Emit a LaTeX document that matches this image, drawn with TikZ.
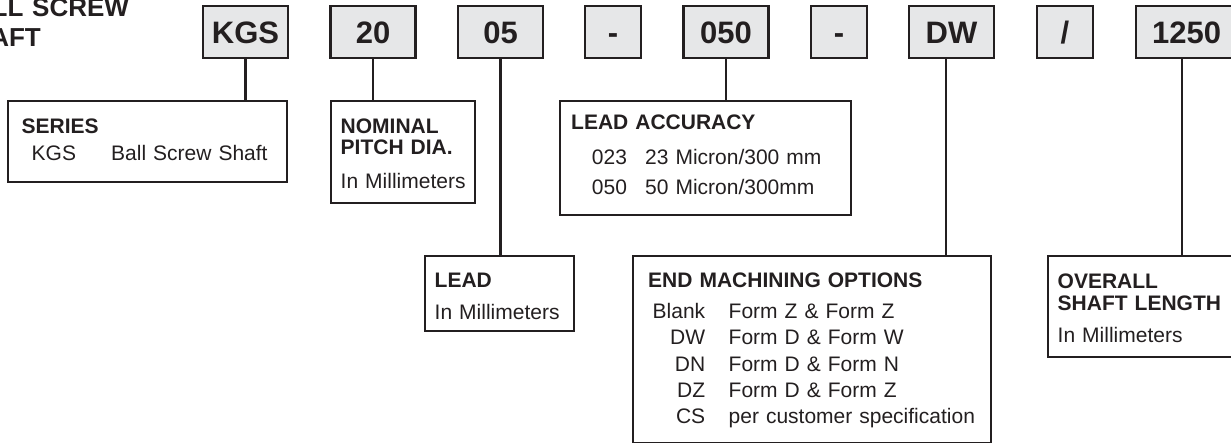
\documentclass[tikz,border=0pt]{standalone}
\usepackage{fontspec}
\setmainfont{Liberation Sans}
\definecolor{ink}{HTML}{231F20}
\definecolor{boxgray}{HTML}{E6E7E8}
\begin{document}
\begin{tikzpicture}[x=1pt,y=-1pt,
		topbox/.style={draw=ink, fill=boxgray, line width=2.2pt, minimum width=85pt, minimum height=52pt, inner sep=0pt, text height=22.5pt, text depth=0pt, text=ink, font=\fontsize{31}{31}\selectfont\bfseries},
		keybox/.style={draw=ink, line width=2.2pt, inner sep=0pt, anchor=north west},
		keytext/.style={anchor=base west, inner sep=0pt, text width=#1, align=left, text=ink, font=\fontsize{21}{22}\selectfont},
		keytext/.default=260pt,
		wire/.style={draw=ink, line width=2.2pt}]
				\useasboundingbox (0,0) rectangle (1231,443);
				% title, cut off at the left edge
				\node[anchor=base west, inner sep=0pt, text width=250pt, align=left, text=ink, font=\fontsize{26}{30.4}\selectfont\bfseries] (title) at (-46,16.3) {BALL SCREW\\SHAFT};
				% code boxes
				\node[topbox] (kgs) at (245.5,32) {KGS};
				\node[topbox] (dia) at (373,32) {20};
				\node[topbox] (lead) at (500.5,32) {05};
				\node[topbox, minimum width=56pt] (dasha) at (613,32) {-};
				\node[topbox] (acc) at (726,32) {050};
				\node[topbox, minimum width=56pt] (dashb) at (839,32) {-};
				\node[topbox] (dw) at (951.5,32) {DW};
				\node[topbox, minimum width=56pt] (slash) at (1065,32) {/};
				\node[topbox, anchor=west, text width=69pt, align=left, inner xsep=16pt] (len) at (1135,32) {1250};
				% key boxes
				\node[keybox, minimum width=279pt, minimum height=81pt] (series) at (7,100) {};
				\node[keybox, minimum width=144pt, minimum height=102pt] (nominal) at (330,100) {};
				\node[keybox, minimum width=149pt, minimum height=75pt] (leadbox) at (424,255) {};
				\node[keybox, minimum width=291pt, minimum height=114pt] (accbox) at (559,100) {};
				\node[keybox, minimum width=358pt, minimum height=187pt] (endbox) at (632,255) {};
				\node[keybox, minimum width=190pt, minimum height=101pt] (lenbox) at (1047,255) {};
				% key texts
				\node[keytext] (seriestxt) at (21.5,133.3) {\textbf{SERIES}\\[5.7pt]
					\hspace*{10pt}\makebox[79.5pt][l]{KGS}Ball Screw Shaft};
				\node[keytext=140pt] (nominaltxt) at (340.5,133.3) {\textbf{NOMINAL}\\[-0.3pt]\textbf{PITCH DIA.}\\[11.3pt]In Millimeters};
				\node[keytext=140pt] (leadtxt) at (434.5,287.7) {\textbf{LEAD}\\[10.3pt]In Millimeters};
				\node[keytext] (acctxt) at (571,130) {\textbf{LEAD ACCURACY}\\[13pt]
					\hspace*{20.7pt}\makebox[53.3pt][l]{023}23 Micron/300 mm\\[7.3pt]
					\hspace*{20.7pt}\makebox[53.3pt][l]{050}50 Micron/300mm};
				\node[keytext=340pt] (endtxt) at (648,287.3) {\textbf{END MACHINING OPTIONS}\\[9pt]
					\makebox[57pt][r]{Blank}\hspace*{23.5pt}Form Z \& Form Z\\[4.4pt]
					\makebox[57pt][r]{DW}\hspace*{23.5pt}Form D \& Form W\\[4.4pt]
					\makebox[57pt][r]{DN}\hspace*{23.5pt}Form D \& Form N\\[4.4pt]
					\makebox[57pt][r]{DZ}\hspace*{23.5pt}Form D \& Form Z\\[4.4pt]
					\makebox[57pt][r]{CS}\hspace*{23.5pt}per customer specification};
				\node[keytext=180pt] (lentxt) at (1057.5,288.3) {\textbf{OVERALL}\\[0.7pt]\textbf{SHAFT LENGTH}\\[9.7pt]In Millimeters};
				% connectors
				\draw[wire] (kgs.south) -- (kgs.south |- series.north);
				\draw[wire] (dia.south) -- (dia.south |- nominal.north);
				\draw[wire] (lead.south) -- (lead.south |- leadbox.north);
				\draw[wire] (acc.south) -- (acc.south |- accbox.north);
				\draw[wire] ([xshift=-5.5pt]dw.south) -- ([xshift=-5.5pt]dw.south |- endbox.north);
				\draw[wire] ([xshift=-4.5pt]len.south) -- ([xshift=-4.5pt]len.south |- lenbox.north);
			\end{tikzpicture}
\end{document}
